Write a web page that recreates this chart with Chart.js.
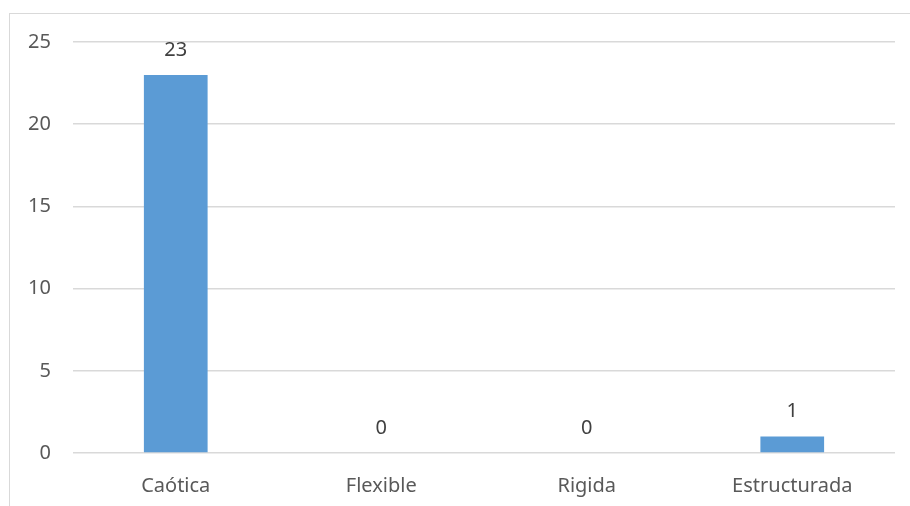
<!DOCTYPE html>
<html>
<head>
<meta charset="utf-8">
<script src="https://cdn.jsdelivr.net/npm/chart.js@4/dist/chart.umd.min.js"></script>
<style>
  html, body { margin: 0; padding: 0; background: #fff; }
  #frame {
    position: absolute; left: 9px; top: 13px;
    width: 1000px; height: 1000px;
    border: 1px solid #d9d9d9;
  }
  #wrap { position: absolute; left: 0; top: 0; width: 910px; height: 506px; }
</style>
</head>
<body>
<div id="frame"></div>
<div id="wrap"><canvas id="chart" width="910" height="506"></canvas></div>
<script>
const categories = ['Caótica', 'Flexible', 'Rigida', 'Estructurada'];
const values = [23, 0, 0, 1];
const yTicks = [0, 5, 10, 15, 20, 25];

const fontFamily = '"Noto Sans", sans-serif';

// draws the number above every bar
const valueLabels = {
    id: 'valueLabels',
    afterDatasetsDraw(chart) {
        const ctx = chart.ctx;
        const meta = chart.getDatasetMeta(0);
        ctx.save();
        ctx.font = '20px ' + fontFamily;
        ctx.fillStyle = '#404040';
        ctx.textAlign = 'center';
        ctx.textBaseline = 'middle';
        meta.data.forEach((bar, i) => {
            ctx.fillText(String(values[i]), bar.x, bar.y - 25);
        });
        ctx.restore();
    }
};

document.addEventListener("DOMContentLoaded", () =>
{
    const chartEl = document.getElementById('chart');

    new Chart(chartEl, {
        type: 'bar',
        data: {
            labels: categories,
            datasets: [{
                data: values,
                backgroundColor: '#5b9bd5',
                borderWidth: 0,
                barPercentage: 0.31,
                categoryPercentage: 1
            }]
        },
        options: {
            responsive: false,
            animation: false,
            layout: { padding: { left: 28, right: 15, top: 42, bottom: 8 } },
            plugins: {
                legend: { display: false },
                tooltip: { enabled: false }
            },
            scales: {
                x: {
                    afterFit: scale => { scale.height = 45; },
                    grid: { display: false, drawTicks: false },
                    border: { display: false },
                    ticks: {
                        padding: 21,
                        color: '#595959',
                        font: { family: fontFamily, size: 20 }
                    }
                },
                y: {
                    min: 0,
                    max: 25,
                    afterFit: scale => { scale.width = 45; },
                    afterBuildTicks: scale => { scale.ticks = yTicks.map(v => ({ value: v })); },
                    grid: { color: '#d9d9d9', lineWidth: 1.5, drawTicks: false },
                    border: { display: false },
                    ticks: {
                        padding: 22,
                        color: '#595959',
                        font: { family: fontFamily, size: 20 }
                    }
                }
            }
        },
        plugins: [valueLabels]
    });
});
</script>
</body>
</html>
